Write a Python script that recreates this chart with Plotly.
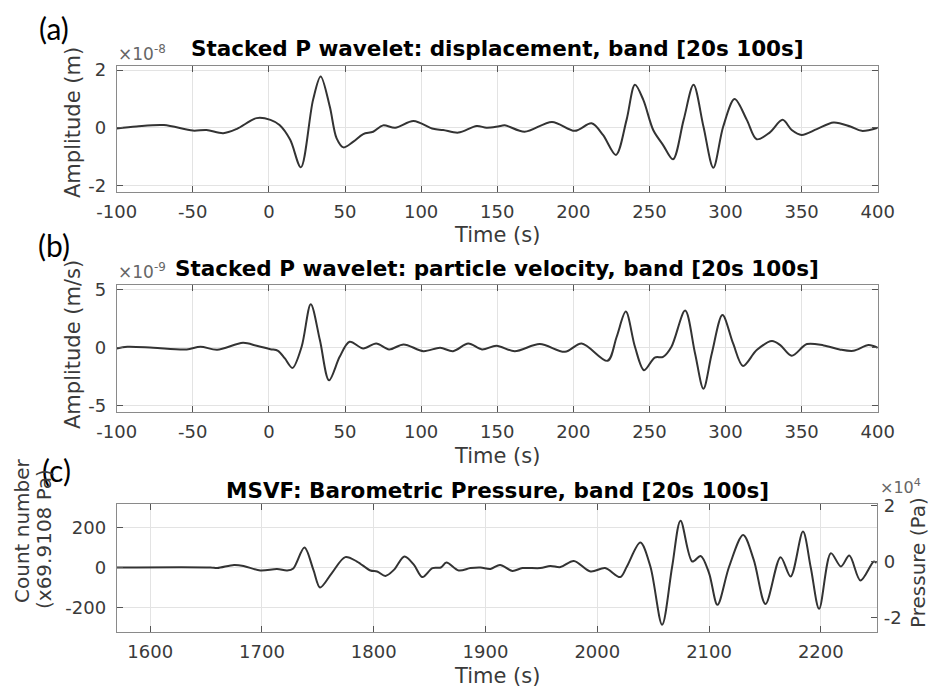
import plotly.graph_objects as go

# ---------------- data ----------------
# (a) stacked P wavelet displacement, units of 1e-8 m
t_disp = [-100, -87, -69, -50, -41, -30, -21, -8, 1, 7, 14, 21, 29, 34, 40, 44.5,
          49, 55.5, 62, 68.5, 75, 83, 95, 108, 114.5, 124.5, 136.5, 143, 150.5, 155,
          168, 186, 201, 212, 219.5, 228, 235, 240.5, 246, 252.5, 259, 265.5, 272.5,
          279, 285.5, 292, 298.5, 306, 314, 320.5, 329, 337.5, 343.5, 350, 360, 371,
          382, 389.5, 400]
disp_e8 = [-0.02, 0.05, 0.10, -0.09, -0.07, -0.18, -0.03, 0.34, 0.28, 0.10, -0.41,
           -1.36, 0.97, 1.78, 0.74, -0.36, -0.67, -0.47, -0.21, -0.13, 0.09, 0.01,
           0.24, -0.03, -0.07, -0.16, 0.07, 0.01, 0.05, 0.09, -0.13, 0.21, -0.10,
           0.16, -0.24, -0.93, 0.28, 1.49, 0.97, -0.07, -0.59, -1.08, 0.28, 1.49,
           0.05, -1.37, 0.05, 1.00, 0.28, -0.39, -0.16, 0.28, -0.07, -0.24, -0.04,
           0.19, 0.05, -0.10, 0.01]

# (b) stacked P wavelet particle velocity, units of 1e-9 m/s
t_vel = [-100, -93, -76, -54, -45, -34, -17, -8, 1, 6, 10.5, 15.5, 21.5, 27.5, 33.5,
         39.5, 46.5, 53, 62, 70.5, 79, 88.5, 101.5, 112.5, 121, 131, 140, 149.5,
         161.5, 178, 194.5, 205.5, 222.5, 228.5, 234.5, 240.5, 246.5, 253.5, 259,
         264.5, 273.5, 280, 285.5, 291, 298, 305, 311.5, 320.5, 330.5, 336, 343.5,
         353.5, 364.5, 375, 384, 394, 400]
vel_e9 = [-0.06, 0.09, 0.00, -0.14, 0.09, -0.17, 0.43, 0.17, -0.12, -0.26, -0.92,
          -1.73, 0.09, 3.75, 0.66, -2.80, -0.78, 0.52, -0.06, 0.37, -0.14, 0.29,
          -0.29, 0.00, -0.29, 0.37, -0.14, 0.17, -0.29, 0.32, -0.35, 0.37, -1.12,
          0.95, 3.11, 0.09, -1.93, -0.84, -0.78, 0.09, 3.20, -0.49, -3.52, -0.49,
          2.82, 0.37, -1.56, -0.20, 0.58, 0.23, -0.69, 0.32, 0.20, -0.14, -0.26,
          0.23, 0.00]

# (c) MSVF barometric pressure, count number (1 count = 69.9108 Pa)
t_pres = [1570, 1654, 1660, 1675, 1683.5, 1698.5, 1713.5, 1722.5, 1728, 1738, 1746,
          1752, 1762.5, 1774.5, 1785, 1797, 1803, 1810.5, 1818, 1827.5, 1836, 1843.5,
          1852.5, 1860, 1865, 1876, 1886.5, 1895.5, 1904.5, 1913, 1924, 1933, 1949,
          1958, 1967, 1979, 1994, 2007, 2020.5, 2026.5, 2038.5, 2047.5, 2058, 2067,
          2074.5, 2085, 2092.5, 2100, 2107.5, 2118, 2130.5, 2140, 2150.5, 2164, 2173,
          2184, 2191, 2198.5, 2209, 2218, 2225.5, 2235.5, 2247.5, 2250]
pres_counts = [0, 0, -3, 13, 8, -15, -8, -15, -5, 100, -12, -100, -28, 52, 30, -15,
               -20, -42, -12, 55, 13, -48, -3, 0, 25, -15, -3, 0, -7, 13, -17, -3,
               -3, 8, 2, 33, -20, -3, -48, 5, 125, 5, -287, 5, 235, 30, 58, -28,
               -187, 5, 163, 38, -183, 52, -45, 180, 0, -207, 72, 5, 60, -65, 30, 22]
COUNT_TO_PA = 69.9108

ticks_ab = [-100, -50, 0, 50, 100, 150, 200, 250, 300, 350, 400]
ticks_c = [1600, 1700, 1800, 1900, 2000, 2100, 2200]
yticks_a = [-2, 0, 2]
yticks_b = [-5, 0, 5]
yticks_c = [-200, 0, 200]
yticks_c2 = [-2, 0, 2]

titles = ["Stacked P wavelet: displacement, band [20s 100s]",
          "Stacked P wavelet: particle velocity, band [20s 100s]",
          "MSVF: Barometric Pressure, band [20s 100s]"]

# ---------------- layout helpers ----------------
W, H = 930, 691
FONT = "DejaVu Sans"
TXT = "#3a3a3a"
LINE = "#333333"


def fx(px):
    return px / W


def fy(py):
    return 1 - py / H


def lbl(vals):
    return [str(v) for v in vals]


def xax(domain_px, rng, ticks):
    return dict(domain=[fx(domain_px[0]), fx(domain_px[1])], range=rng, tickvals=ticks,
                ticktext=lbl(ticks), automargin=False,
                ticks="inside", ticklen=6, tickcolor="#555", showline=True,
                linecolor="#8a8a8a", linewidth=1, mirror="ticks", showgrid=True,
                gridcolor="#e3e3e3", gridwidth=1, zeroline=False,
                tickfont=dict(family=FONT, size=18, color=TXT), ticklabelstandoff=4)


def yax(domain_px, rng, ticks, anchor, mirror="ticks"):
    return dict(domain=[fy(domain_px[1]), fy(domain_px[0])], range=rng, tickvals=ticks,
                ticktext=lbl(ticks), automargin=False,
                anchor=anchor, ticks="inside", ticklen=6, tickcolor="#555",
                showline=True, linecolor="#8a8a8a", linewidth=1, mirror=mirror,
                showgrid=True, gridcolor="#e3e3e3", gridwidth=1, zeroline=False,
                tickfont=dict(family=FONT, size=18, color=TXT), ticklabelstandoff=6)


XL, XR = 116.7, 877.7
A_T, A_B = 65.7, 191.7
B_T, B_B = 285.0, 411.7
C_T, C_B = 504.3, 631.7

fig = go.Figure()
line_style = dict(color=LINE, width=2, shape="spline", smoothing=0.9)
fig.add_trace(go.Scatter(x=t_disp, y=disp_e8, mode="lines", line=line_style,
                         xaxis="x", yaxis="y", showlegend=False))
fig.add_trace(go.Scatter(x=t_vel, y=vel_e9, mode="lines", line=line_style,
                         xaxis="x2", yaxis="y2", showlegend=False))
fig.add_trace(go.Scatter(x=t_pres, y=pres_counts, mode="lines", line=line_style,
                         xaxis="x3", yaxis="y3", showlegend=False))
# same series in Pa (x1e4) on the right-hand axis, invisible: only sets up that axis
fig.add_trace(go.Scatter(x=t_pres, y=[c * COUNT_TO_PA / 1e4 for c in pres_counts],
                         mode="lines", line=dict(color="rgba(0,0,0,0)", width=0),
                         hoverinfo="skip", xaxis="x3", yaxis="y4", showlegend=False))

fig.update_layout(
    width=W, height=H, margin=dict(l=0, r=0, t=0, b=0, autoexpand=False),
    paper_bgcolor="white", plot_bgcolor="white", showlegend=False,
    xaxis=xax((XL, XR), [-100, 400], ticks_ab) | dict(anchor="y"),
    yaxis=yax((A_T, A_B), [-2.2, 2.15], yticks_a, "x"),
    xaxis2=xax((XL, XR), [-100, 400], ticks_ab) | dict(anchor="y2"),
    yaxis2=yax((B_T, B_B), [-5.5, 5.4], yticks_b, "x2"),
    xaxis3=xax((XL, XR - 1), [1570, 2250], ticks_c) | dict(anchor="y3"),
    yaxis3=yax((C_T, C_B), [-322, 317], yticks_c, "x3", mirror=True),
    yaxis4=dict(overlaying="y3", anchor="x3", side="right", range=[-2.5, 2.06],
                tickvals=yticks_c2, ticktext=lbl(yticks_c2), automargin=False,
                ticks="inside", ticklen=6, tickcolor="#555",
                showline=False, showgrid=False, zeroline=False,
                tickfont=dict(family=FONT, size=18, color=TXT), ticklabelstandoff=6),
)

ann = []


def add_text(text, x, y, size, color=TXT, bold=False, angle=0, xanchor="center",
             family=FONT):
    ann.append(dict(text=f"<b>{text}</b>" if bold else text, x=fx(x), y=fy(y),
                    xref="paper", yref="paper", xanchor=xanchor, yanchor="middle",
                    showarrow=False, textangle=angle,
                    font=dict(family=family, size=size, color=color)))


# titles
add_text(titles[0], 497, 49, 21.5, color="#000", bold=True)
add_text(titles[1], 497, 268, 21.5, color="#000", bold=True)
add_text(titles[2], 497, 490, 21.5, color="#000", bold=True)
# exponent labels
add_text("×10<sup>-8</sup>", 116, 53, 17, color="#666", xanchor="left")
add_text("×10<sup>-9</sup>", 116, 271, 17, color="#666", xanchor="left")
add_text("×10<sup>4</sup>", 878, 486, 16, color="#666", xanchor="left")
# panel letters
add_text("(a)", 54, 28, 30, color="#000", family="Lato")
add_text("(b)", 54, 245, 30, color="#000", family="Lato")
add_text("(c)", 56, 470, 30, color="#000", family="Lato")
# axis titles
add_text("Time (s)", 497, 235, 21)
add_text("Time (s)", 497, 456, 21)
add_text("Time (s)", 497, 676, 21)
add_text("Amplitude (m)", 73, 123, 21, angle=-90)
add_text("Amplitude (m/s)", 73, 345, 21, angle=-90)
add_text("Count number", 22, 531, 20, angle=-90)
add_text("(x69.9108 Pa)", 44, 539, 20, angle=-90)
add_text("Pressure (Pa)", 918, 563, 20, angle=-90)

fig.update_layout(annotations=ann)
fig.write_html("out.html")
